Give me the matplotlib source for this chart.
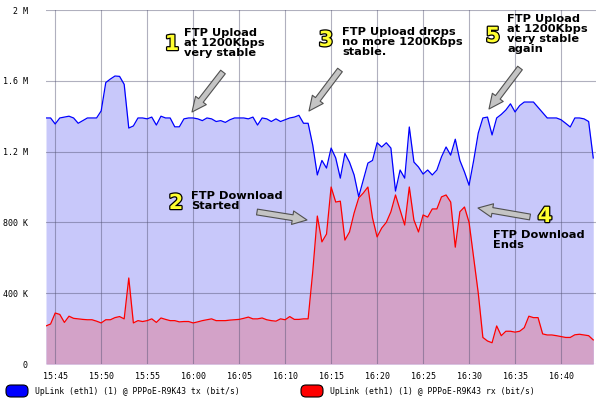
import matplotlib
matplotlib.use('Agg')
import matplotlib.pyplot as plt
import matplotlib.dates as mdates
import matplotlib.patheffects as pe
from matplotlib.patches import FancyBboxPatch
from matplotlib.transforms import IdentityTransform
import pandas as pd

# samples every 30 s starting 15:44:00, values in kbit/s
tx_kbps = [
    1390, 1390, 1356, 1390, 1395, 1400, 1390, 1360, 1375, 1390,
    1390, 1390, 1430, 1590, 1610, 1627, 1625, 1580, 1333, 1345,
    1390, 1390, 1385, 1395, 1350, 1400, 1390, 1390, 1340, 1340,
    1385, 1390, 1390, 1385, 1375, 1390, 1385, 1370, 1375, 1365,
    1380, 1390, 1390, 1390, 1385, 1395, 1350, 1390, 1385, 1370,
    1385, 1370, 1380, 1390, 1395, 1405, 1360, 1360, 1237, 1068,
    1150, 1107, 1220, 1164, 1050, 1190, 1140, 1068, 945, 1040,
    1135, 1150, 1250, 1226, 1250, 1220, 977, 1096, 1050, 1339,
    1141, 1113, 1073, 1096, 1068, 1096, 1170, 1226, 1180, 1270,
    1150, 1085, 1010, 1150, 1305, 1390, 1395, 1294, 1390, 1410,
    1435, 1470, 1424, 1460, 1480, 1480, 1480, 1450, 1420, 1390,
    1390, 1390, 1380, 1360, 1339, 1390, 1390, 1385, 1370, 1164,
]
rx_kbps = [
    215, 226, 288, 280, 235, 270, 258, 255, 252, 250,
    250, 242, 232, 250, 250, 262, 268, 255, 486, 232,
    245, 240, 245, 255, 235, 260, 252, 245, 245, 238,
    240, 240, 232, 238, 245, 250, 255, 245, 245, 245,
    248, 250, 252, 258, 265, 255, 255, 260, 250, 245,
    242, 255, 250, 268, 252, 252, 255, 255, 520, 836,
    690, 734, 1000, 915, 920, 700, 746, 853, 938, 966,
    1000, 825, 718, 768, 800, 860, 955, 870, 785, 1000,
    814, 746, 842, 830, 876, 876, 944, 955, 915, 660,
    860, 887, 800, 600, 400, 150, 130, 120, 215, 160,
    185, 185, 180, 185, 205, 270, 262, 262, 170, 164,
    164, 160, 155, 150, 150, 165, 168, 164, 160, 136,
]
y_ticks = [0, 400e3, 800e3, 1.2e6, 1.6e6, 2e6]
y_labels = ['0', '400 K', '800 K', '1.2 M', '1.6 M', '2 M']
legend_labels = ['UpLink (eth1) (1) @ PPPoE-R9K43 tx (bit/s)',
                 'UpLink (eth1) (1) @ PPPoE-R9K43 rx (bit/s)']

times = pd.date_range('2010-01-01 15:44:00', periods=len(tx_kbps), freq='30s')
tx = [v * 1000 for v in tx_kbps]
rx = [v * 1000 for v in rx_kbps]

fig = plt.figure(figsize=(6, 4), dpi=100)
ax = fig.add_axes([46 / 600, 36 / 400, 550 / 600, 354 / 400])

ax.fill_between(times, tx, color='#c8c8fa', lw=0, zorder=1)
ax.fill_between(times, rx, color='#d3a2c8', lw=0, zorder=1)
ax.plot(times, tx, color='#0000ff', lw=0.9, zorder=2)
ax.plot(times, rx, color='#ff0000', lw=0.9, zorder=2)

ax.set_xlim(times[0], times[0] + pd.Timedelta(minutes=59.8))
ax.set_ylim(0, 2e6)
ax.set_yticks(y_ticks)
ax.set_yticklabels(y_labels)
ax.xaxis.set_major_locator(mdates.MinuteLocator(byminute=range(0, 60, 5)))
ax.xaxis.set_major_formatter(mdates.DateFormatter('%H:%M'))
ax.grid(True, color='#505070', alpha=0.45, lw=0.8)
ax.tick_params(axis='y', length=0, pad=13, labelsize=6)
ax.tick_params(axis='x', length=0, pad=6, labelsize=6)
for lab in ax.get_xticklabels() + ax.get_yticklabels():
    lab.set_family('DejaVu Sans Mono')
for s in ax.spines.values():
    s.set_visible(False)

# annotations: yellow numbers, bold notes, grey arrows (figure pixel coords, top-left origin)
H = 400
def px(x, y):
    return (x, H - y)

arrow_style = dict(arrowstyle='simple,head_length=0.75,head_width=0.7,tail_width=0.3',
                   mutation_scale=14, fc='#c4c4c4', ec='#505050', lw=0.8,
                   shrinkA=0, shrinkB=0)
for tail, tip in [((223, 72), (192, 112)),
                  ((340, 70), (309, 111)),
                  ((520, 68), (489, 109)),
                  ((257, 212), (307, 220)),
                  ((530, 217), (478, 208))]:
    ax.annotate('', xy=px(*tip), xytext=px(*tail), xycoords='figure pixels',
                textcoords='figure pixels', arrowprops=arrow_style, zorder=5)

notes = [
    ('1', (172, 44), 'FTP Upload\nat 1200Kbps\nvery stable', (184, 28)),
    ('3', (326, 40), 'FTP Upload drops\nno more 1200Kbps\nstable.', (342, 27)),
    ('5', (493, 36), 'FTP Upload\nat 1200Kbps\nvery stable\nagain', (507, 14)),
    ('2', (176, 203), 'FTP Download\nStarted', (191, 191)),
    ('4', (545, 216), 'FTP Download\nEnds', (493, 230)),
]
for num, npos, text, tpos in notes:
    fig.text(npos[0] / 600, 1 - npos[1] / H, num, ha='center', va='center',
             fontsize=15, fontweight='bold', color='#ffff30', family='DejaVu Sans',
             path_effects=[pe.withStroke(linewidth=1.8, foreground='black')])
    fig.text(tpos[0] / 600, 1 - tpos[1] / H, text, ha='left', va='top',
             fontsize=8.2, fontweight='bold', color='black', family='DejaVu Sans',
             linespacing=1.0)

# legend along the bottom
for (bx, col), label in zip([(6, '#0000ff'), (301, '#ff0000')], legend_labels):
    box = FancyBboxPatch((bx, H - 397), 22, 12,
                         boxstyle='round,pad=0,rounding_size=5',
                         fc=col, ec='black', lw=0.8, transform=IdentityTransform())
    fig.patches.append(box)
    fig.text((bx + 29) / 600, 1 - 391 / H, label, ha='left', va='center',
             fontsize=5.8, family='DejaVu Sans Mono')

fig.savefig('out.png', dpi=100)
